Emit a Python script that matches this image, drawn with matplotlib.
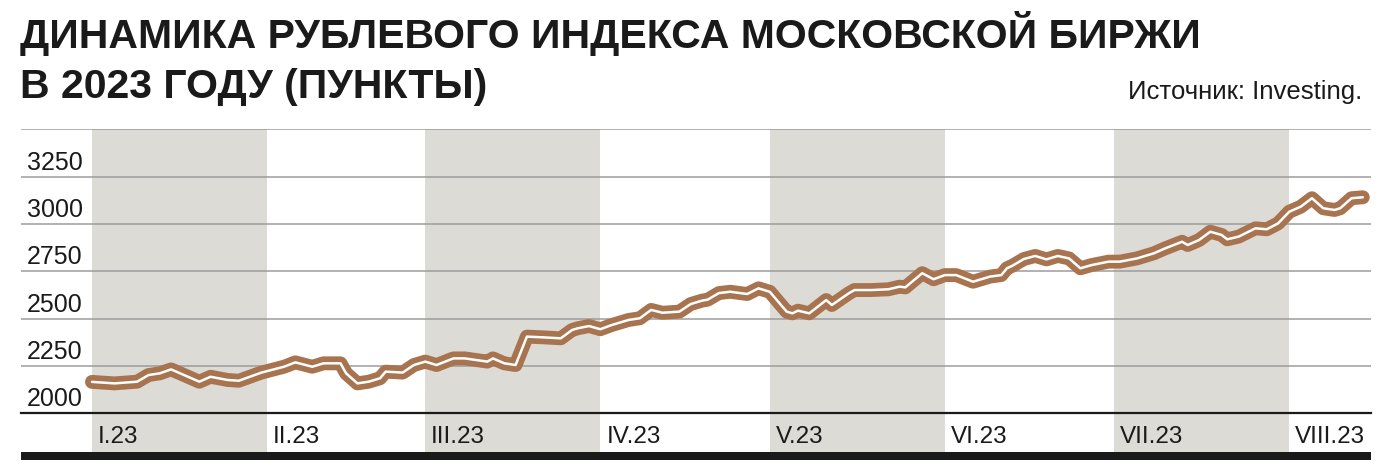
import matplotlib
matplotlib.use("Agg")
import matplotlib.pyplot as plt
import pandas as pd
from matplotlib.patches import Rectangle

# ---- data -------------------------------------------------------------
title_lines = ["ДИНАМИКА РУБЛЕВОГО ИНДЕКСА МОСКОВСКОЙ БИРЖИ",
               "В 2023 ГОДУ (ПУНКТЫ)"]
source = "Источник: Investing."

# days counted from 1 January 2023
day_offsets = [0, 4, 8, 10, 12, 14, 16, 19, 21, 24, 26, 30, 34, 36, 39, 41, 44,
               45, 47, 49, 51, 52, 55, 57, 59, 61, 64, 66, 70, 71, 73, 75, 77,
               80, 83, 85, 86, 88, 90, 92, 95, 97, 99, 101, 104, 106, 108, 109,
               111, 113, 116, 118, 120, 123, 124, 125, 127, 130, 131, 134, 135,
               138, 141, 143, 144, 147, 149, 151, 153, 156, 159, 161, 162, 163,
               165, 167, 169, 171, 173, 175, 177, 180, 182, 185, 188, 190, 193,
               194, 196, 198, 200, 201, 203, 206, 208, 210, 212, 214, 216, 218,
               220, 221, 223, 225]
index_values = [2166, 2158, 2167, 2202, 2211, 2232, 2206, 2167, 2193, 2176, 2172,
                2215, 2246, 2269, 2246, 2264, 2264, 2211, 2158, 2167, 2185, 2220,
                2215, 2255, 2273, 2255, 2290, 2290, 2273, 2290, 2264, 2255, 2405,
                2401, 2396, 2440, 2449, 2461, 2444, 2466, 2493, 2502, 2546, 2531,
                2537, 2577, 2595, 2600, 2635, 2642, 2630, 2660, 2642, 2537, 2528,
                2542, 2528, 2598, 2572, 2634, 2651, 2651, 2655, 2669, 2665, 2740,
                2708, 2730, 2730, 2695, 2722, 2730, 2766, 2780, 2815, 2831, 2813,
                2831, 2818, 2766, 2783, 2801, 2801, 2818, 2845, 2871, 2906, 2889,
                2915, 2959, 2942, 2919, 2933, 2977, 2972, 3003, 3065, 3091, 3136,
                3083, 3074, 3083, 3136, 3141]

month_starts = ["2023-01-01", "2023-02-01", "2023-03-01", "2023-04-01",
                "2023-05-01", "2023-06-01", "2023-07-01", "2023-08-01"]
month_labels = ["I.23", "II.23", "III.23", "IV.23", "V.23", "VI.23", "VII.23", "VIII.23"]
shaded_months = [0, 2, 4, 6]          # indices of shaded month bands
y_ticks = [2000, 2250, 2500, 2750, 3000, 3250]
y_top = 3500

# ---- style ------------------------------------------------------------
BROWN = "#a87450"
SHADE = "#dcdbd5"
GRID = "#9c9c9c"
TXT = "#1a1a1a"
SANS = ["Liberation Sans", "DejaVu Sans"]
NARROW = ["Liberation Sans Narrow", "Liberation Sans", "DejaVu Sans"]

W, H = 1395, 469
fig = plt.figure(figsize=(W / 100, H / 100), dpi=100)
ax = fig.add_axes([20.7 / W, 1 - 413.3 / H, (1370.7 - 20.7) / W, (413.3 - 129.3) / H])

base = pd.Timestamp("2023-01-01")
dates = base + pd.to_timedelta(day_offsets, unit="D")
mstarts = pd.to_datetime(month_starts)

ax.set_xlim(base - pd.Timedelta(days=12.62), base + pd.Timedelta(days=226.4))
ax.set_ylim(y_ticks[0], y_top)

for s in ax.spines.values():
    s.set_visible(False)
ax.set_xticks([])
ax.set_yticks([])
ax.patch.set_alpha(0)

# shaded month bands (extend down to the bottom bar)
bar_top = -(452 - 413.3) / 284.0
bar_bot = -(460 - 413.3) / 284.0
month_ends = list(mstarts[1:]) + [base + pd.Timedelta(days=226.4)]
for i in shaded_months:
    ax.axvspan(mstarts[i], month_ends[i], ymin=bar_top, ymax=1, color=SHADE,
               lw=0, zorder=0, clip_on=False)

# grid lines
for v in y_ticks[1:] + [y_top]:
    ax.axhline(v, color=GRID, lw=1.1, zorder=1)
ax.axhline(y_ticks[0], color=TXT, lw=1.6, zorder=1, clip_on=False)

# bottom black bar
ax.add_patch(Rectangle((0, bar_bot), 1, bar_top - bar_bot, transform=ax.transAxes,
                       color=TXT, lw=0, clip_on=False, zorder=1))

# y labels
for v in y_ticks:
    ax.annotate(str(v), xy=(0, v), xycoords=("axes fraction", "data"),
                xytext=(6, 7), textcoords="offset pixels", ha="left", va="baseline",
                fontsize=18, color=TXT, family=SANS)

# month labels
for d, lab in zip(mstarts, month_labels):
    ax.annotate(lab, xy=(d, 0), xycoords=("data", "axes fraction"),
                xytext=(6, -29.5), textcoords="offset pixels", ha="left", va="baseline",
                fontsize=17.5, color=TXT, family=SANS)

# the line
ax.plot(dates, index_values, color=BROWN, lw=10, solid_capstyle="round",
        solid_joinstyle="round", zorder=3, clip_on=False)
ax.plot(dates, index_values, color="white", lw=1.8, solid_capstyle="round",
        solid_joinstyle="round", zorder=4, clip_on=False)

# titles
fig.text(20 / W, 1 - 48 / H, title_lines[0], fontsize=29.5, weight="bold",
         family=NARROW, color=TXT, va="baseline", ha="left")
fig.text(20 / W, 1 - 98 / H, title_lines[1], fontsize=29.5, weight="bold",
         family=NARROW, color=TXT, va="baseline", ha="left")
fig.text(1362 / W, 1 - 99.3 / H, source, fontsize=18.5, family=SANS,
         color=TXT, va="baseline", ha="right")

fig.savefig("out.png", dpi=100)
